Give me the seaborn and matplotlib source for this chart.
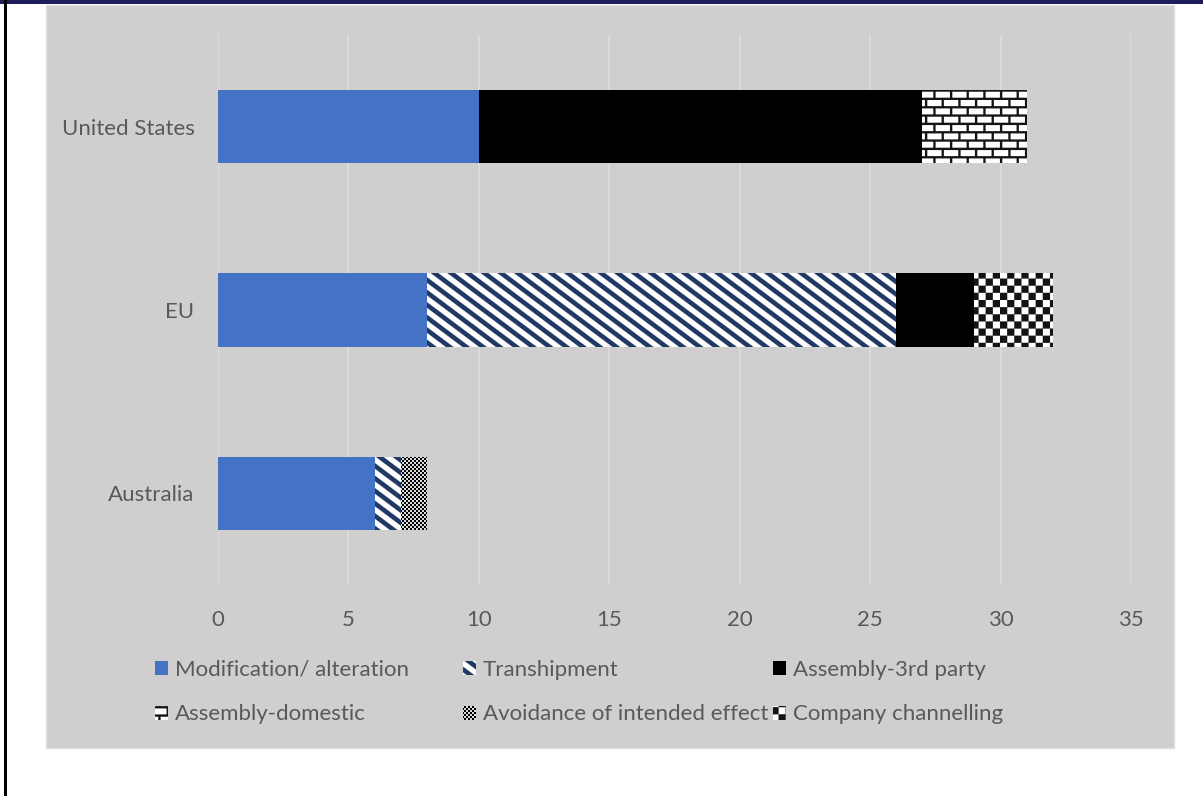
import warnings
import numpy as np
import pandas as pd
import seaborn as sns
import matplotlib
matplotlib.use("Agg")
import matplotlib.pyplot as plt
import matplotlib.patches as mpatches
from matplotlib import hatch as mhatch
from matplotlib.path import Path

warnings.filterwarnings("ignore")

# data
countries = ["United States", "EU", "Australia"]
series_names = ["Modification/ alteration", "Transhipment", "Assembly-3rd party",
                "Assembly-domestic", "Avoidance of intended effect", "Company channelling"]
modification = [10, 8, 6]
transhipment = [0, 18, 1]
assembly_3rd = [17, 3, 0]
assembly_domestic = [4, 0, 0]
avoidance = [0, 0, 1]
company = [0, 3, 0]
x_ticks = [0, 5, 10, 15, 20, 25, 30, 35]


# custom hatch patterns (filled polygons, tiled per 1 inch)
class PolyHatch(mhatch.HatchPatternBase):
    char = None

    def __init__(self, hatch, density):
        self.polys = self.make_polys() if (hatch and self.char in hatch) else []
        self.num_vertices = 5 * len(self.polys)

    def set_vertices_and_codes(self, vertices, codes):
        for i, p in enumerate(self.polys):
            vertices[5 * i:5 * i + 4] = p
            vertices[5 * i + 4] = p[0]
            codes[5 * i] = Path.MOVETO
            codes[5 * i + 1:5 * i + 4] = Path.LINETO
            codes[5 * i + 4] = Path.CLOSEPOLY


def rect(x0, y0, x1, y1):
    return [(x0, y0), (x1, y0), (x1, y1), (x0, y1)]


class StripeHatch(PolyHatch):
    char = "s"

    def make_polys(self):
        k1, k2, t = 8, 6, 0.056
        m = k2 / k1
        polys = []
        for j in range(-2, k1 + 10):
            c = j / k1
            polys.append([(0, c), (1, c - m), (1, c - m + t), (0, c + t)])
        return polys


class BrickHatch(PolyHatch):
    char = "b"

    def make_polys(self):
        rows, cols, t, tv = 12, 6, 0.022, 0.022
        polys = []
        for r in range(rows):
            y0 = r / rows
            polys.append(rect(0, y0, 1, y0 + t))
            off = 0.5 / cols if r % 2 else 0
            for j in range(cols + 1):
                x = j / cols + off
                polys.append(rect(x, y0 + t, x + tv, y0 + 1 / rows))
        return polys


class CheckerHatch(PolyHatch):
    n = 14

    def make_polys(self):
        n = self.n
        polys = []
        for i in range(n):
            for j in range(n):
                if (i + j) % 2 == 0:
                    polys.append(rect(i / n, j / n, (i + 1) / n, (j + 1) / n))
        return polys


class BigChecker(CheckerHatch):
    char = "c"
    n = 14


class SmallChecker(CheckerHatch):
    char = "k"
    n = 50


mhatch._hatch_types.extend([StripeHatch, BrickHatch, BigChecker, SmallChecker])

# styles per series
face = ["#4472c4", "white", "black", "white", "white", "white"]
edge = ["#4472c4", "#1f3864", "black", "#141414", "black", "#141414"]
hatches = [None, "s", None, "b", "k", "c"]

plt.rcParams["font.family"] = ["Lato", "DejaVu Sans"]
plt.rcParams["hatch.linewidth"] = 0.1
text_color = "#595959"

values = np.array([modification, transhipment, assembly_3rd,
                   assembly_domestic, avoidance, company], dtype=float)
cum = np.cumsum(values, axis=0)

fig = plt.figure(figsize=(12.03, 7.96), dpi=100)
fig.patches.append(mpatches.Rectangle((46 / 1203, 1 - 748 / 796), 1128 / 1203, 743 / 796,
                                      transform=fig.transFigure, facecolor="#d0cece",
                                      edgecolor="#e0e0e0", lw=1, zorder=-2))
fig.patches.append(mpatches.Rectangle((0, 1 - 4 / 796), 1, 4 / 796, transform=fig.transFigure,
                                      facecolor="#201b5b", lw=0, zorder=-1))
fig.patches.append(mpatches.Rectangle((4 / 1203, 0), 2.5 / 1203, 1, transform=fig.transFigure,
                                      facecolor="black", lw=0, zorder=-1))

ax = fig.add_axes([218 / 1203, 1 - 585 / 796, 913 / 1203, 550 / 796])
ax.set_facecolor("none")
ax.set_zorder(2)

# stacked bars: draw cumulative totals from the last series back to the first
for i in range(len(series_names) - 1, -1, -1):
    df = pd.DataFrame({"country": countries, "value": cum[i]})
    sns.barplot(data=df, x="value", y="country", order=countries, orient="y",
                color=face[i], edgecolor=edge[i], hatch=hatches[i], linewidth=0,
                width=0.4, saturation=1, errorbar=None, ax=ax)

ax.set_xlim(0, 35)
ax.set_xticks(x_ticks)
ax.set_ylim(2.5, -0.5)
ax.set_axisbelow(True)
ax.xaxis.grid(True, color="#dcdcdc", lw=1.3)
ax.yaxis.grid(False)
for s in ax.spines.values():
    s.set_visible(False)
ax.set_xlabel("")
ax.set_ylabel("")
ax.tick_params(axis="x", length=0, pad=18, labelsize=16, labelcolor=text_color)
ax.tick_params(axis="y", length=0, pad=17, labelsize=16, labelcolor=text_color)

# legend: three equal-width columns like the original
handles = [mpatches.Patch(facecolor=face[i], edgecolor=edge[i], hatch=hatches[i], lw=0,
                          label=series_names[i]) for i in range(6)]
col_x = [155, 463, 773]
for c in range(3):
    leg = fig.legend(handles=[handles[c], handles[c + 3]], loc="upper left",
                     bbox_to_anchor=(col_x[c] / 1203, 1 - 660 / 796), frameon=False,
                     fontsize=16, labelcolor=text_color, borderpad=0, borderaxespad=0,
                     handlelength=0.6, handleheight=0.6, handletextpad=0.3,
                     labelspacing=1.1)
    leg.set_zorder(3)

fig.savefig("out.png", dpi=100)
